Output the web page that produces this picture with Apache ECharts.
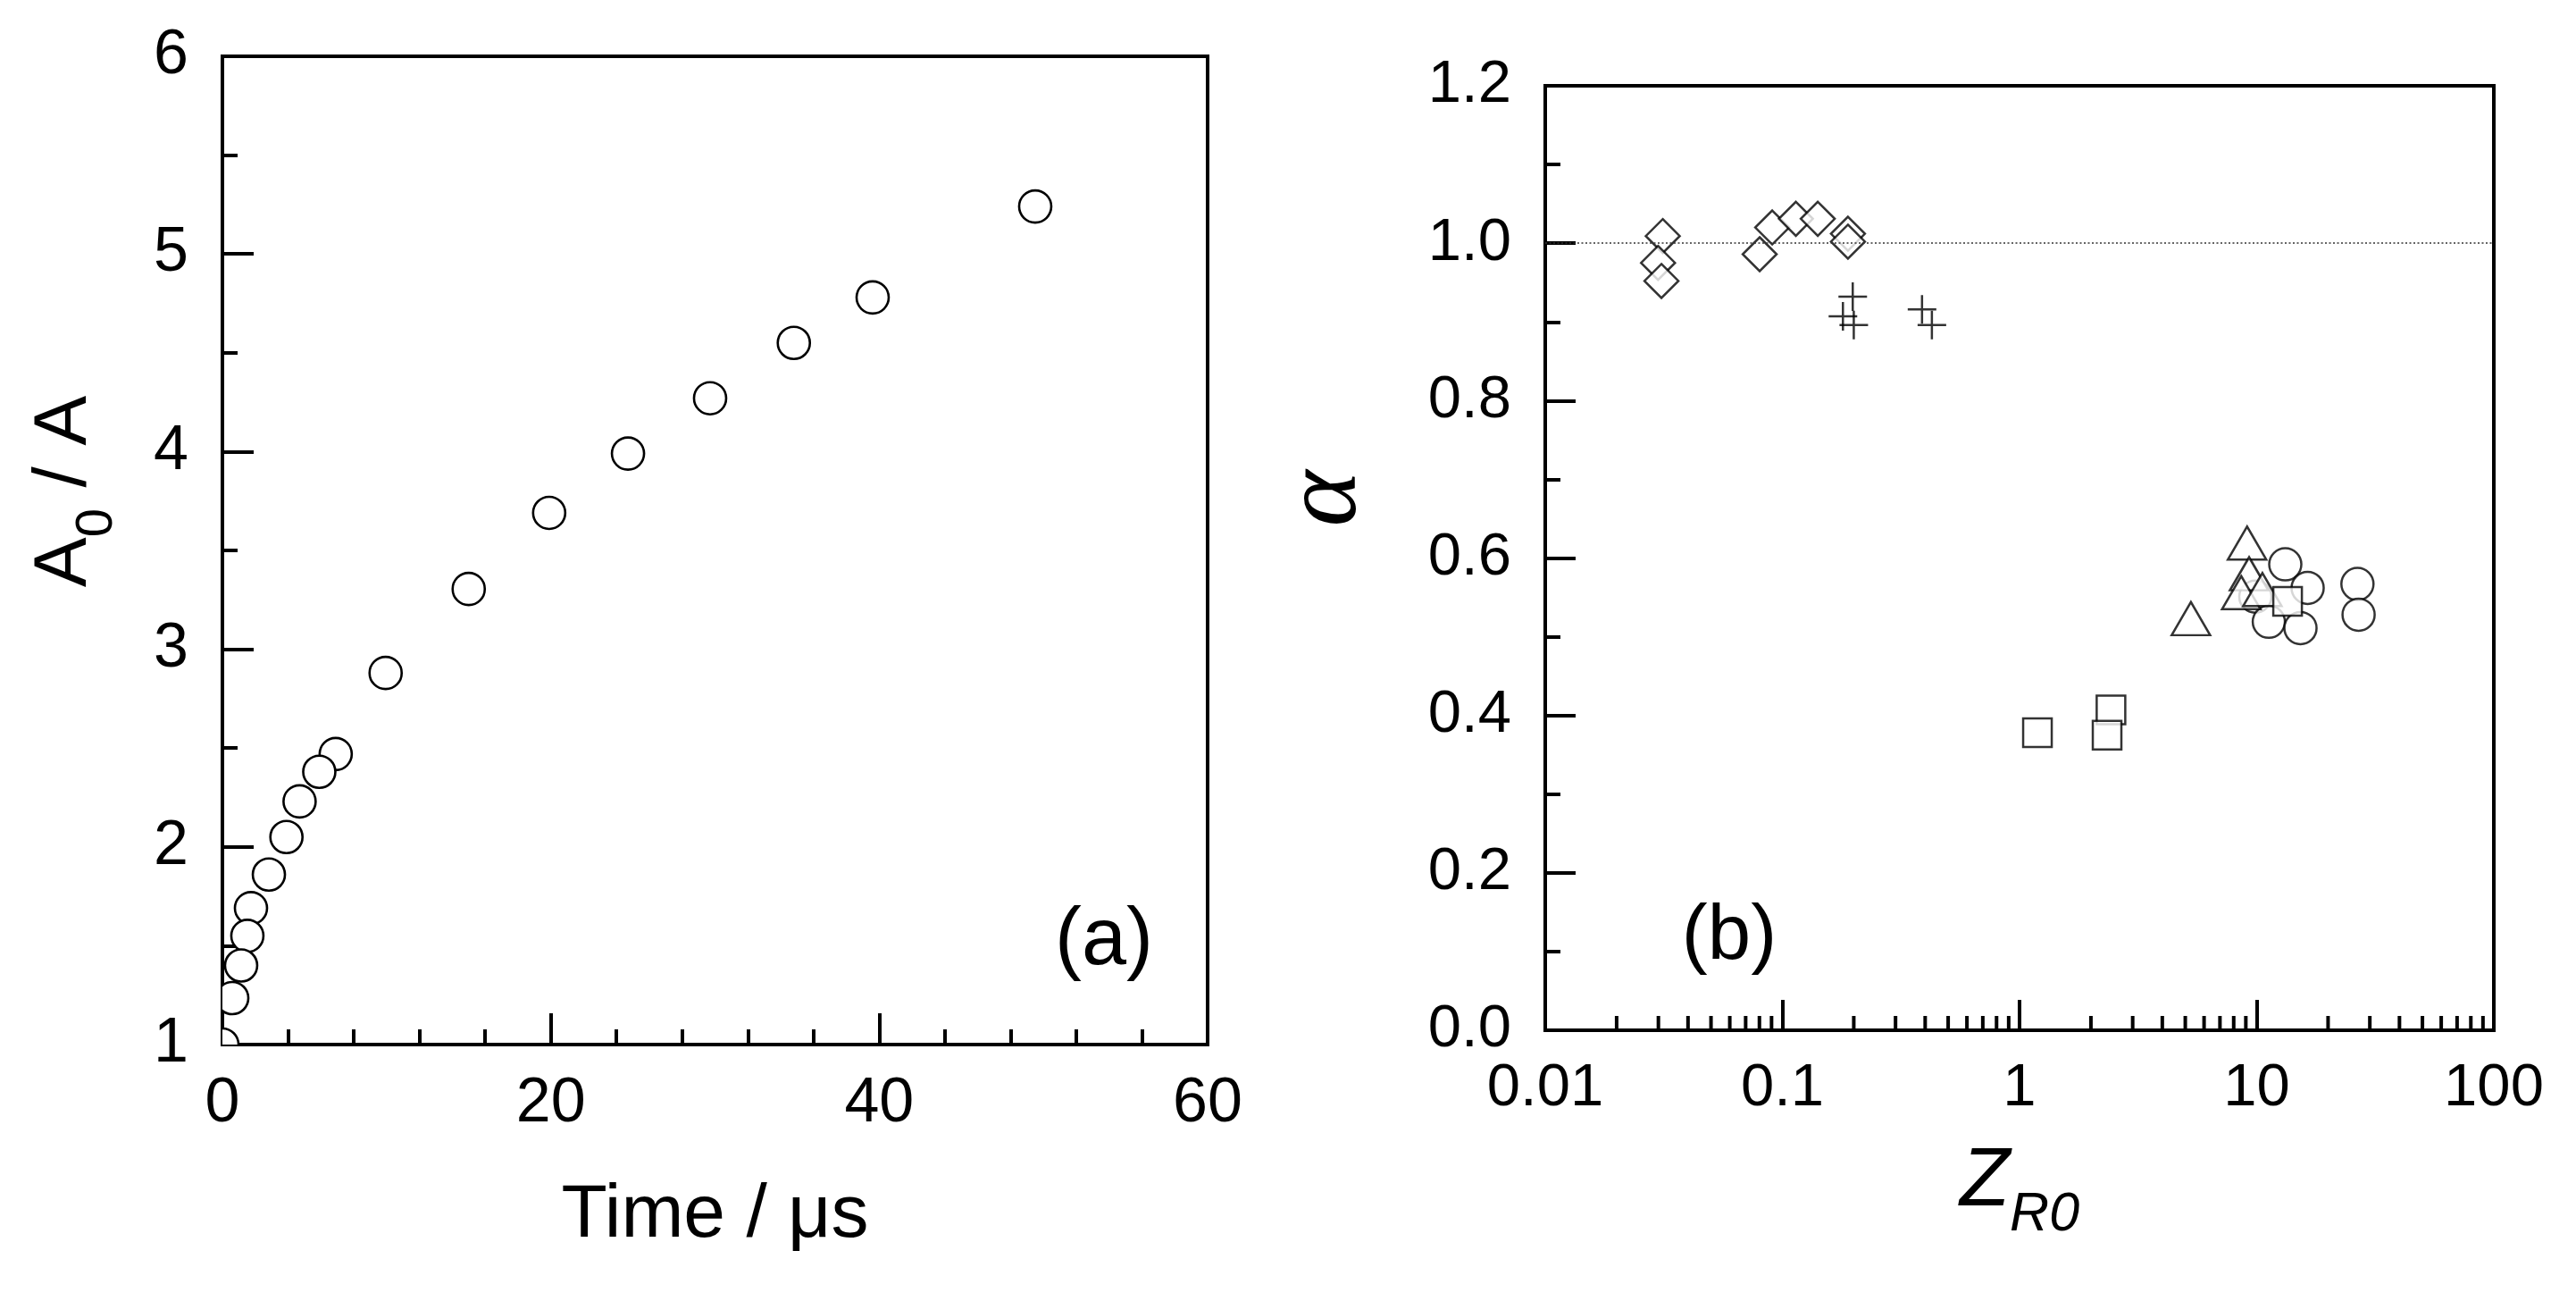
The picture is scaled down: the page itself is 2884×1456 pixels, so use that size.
<!DOCTYPE html>
<html>
<head>
<meta charset="UTF-8">
<style>
    html, body { margin: 0; padding: 0; background: #fff; }
    #chart { width: 2884px; height: 1456px; }
</style>
<script src="https://cdn.jsdelivr.net/npm/echarts/dist/echarts.min.js"></script>
</head>
<body>
<div id="chart"></div>
<script>
// panel (a): A0/A against time (us)
var timeA  = [0, 0.6, 1.14, 1.52, 1.74, 2.83, 3.9, 4.7, 5.9, 6.9, 9.94, 15.0, 19.9, 24.7, 29.7, 34.8, 39.6, 49.5];
var ratioA = [1.0, 1.235, 1.40, 1.55, 1.69, 1.86, 2.05, 2.23, 2.38, 2.47, 2.88, 3.305, 3.69, 3.99, 4.27, 4.55, 4.78, 5.24];

// panel (b): alpha against Z_R0, one pair of arrays per marker
var diamondZ     = [0.0313, 0.0299, 0.0309, 0.0802, 0.0906, 0.114, 0.141, 0.189, 0.189];
var diamondAlpha = [1.009, 0.975, 0.952, 0.986, 1.020, 1.031, 1.031, 1.012, 1.002];
var plusZ        = [0.198, 0.180, 0.200, 0.388, 0.427];
var plusAlpha    = [0.932, 0.907, 0.896, 0.916, 0.896];
var circleZ      = [9.87, 13.2, 16.4, 26.6, 26.9, 11.25, 15.3];
var circleAlpha  = [0.551, 0.592, 0.562, 0.567, 0.528, 0.519, 0.511];
var triangleZ     = [9.11, 9.29, 8.61, 10.57, 5.28];
var triangleAlpha = [0.619, 0.580, 0.556, 0.560, 0.523];
var squareZ      = [1.19, 2.43, 2.34, 13.5];
var squareAlpha  = [0.378, 0.407, 0.375, 0.545];

var xTickLabelsB = ['0.01', '0.1', '1', '10', '100'];
var logDecades = [0.01, 0.1, 1, 10];
var logMinorFactors = [2, 3, 4, 5, 6, 7, 8, 9];
var refAlpha = 1.0;

function pairs(xs, ys) {
    return xs.map(function (x, i) { return [x, ys[i]]; });
}

// earlier points sit on top of later ones in the original
var pointsA = pairs(timeA, ratioA).reverse();

var minorTicksB = [];
logDecades.forEach(function (d) {
    logMinorFactors.forEach(function (f) { minorTicksB.push([d * f, 0]); });
});

var black = '#000';
var sans = 'Liberation Sans';

function baseAxis(fontSize, margin) {
    return {
        axisLine: { show: true, lineStyle: { color: black, width: 4 } },
        axisTick: { show: true, inside: true, length: 35, lineStyle: { color: black, width: 4 } },
        minorTick: { show: true, length: 17, lineStyle: { color: black, width: 4 } },
        splitLine: { show: false },
        minorSplitLine: { show: false },
        axisLabel: { color: black, fontSize: fontSize, fontFamily: sans, margin: margin },
        nameLocation: 'middle',
        nameMoveOverlap: false
    };
}

var chart = echarts.init(document.getElementById('chart'));

var xA = baseAxis(70, 32);
Object.assign(xA, {
    type: 'value', gridIndex: 0, min: 0, max: 60, interval: 20,
    name: 'Time / μs', nameGap: 150,
    nameTextStyle: { color: black, fontSize: 84, fontFamily: sans }
});
xA.minorTick.splitNumber = 5;

var yA = baseAxis(70, 38);
Object.assign(yA, {
    type: 'value', gridIndex: 0, min: 1, max: 6, interval: 1,
    name: '{m|A}{s|0}{m| / A}', nameGap: 111, nameRotate: 90,
    nameTextStyle: {
        padding: [0, 0, 0, 132],
        rich: {
            m: { color: black, fontSize: 84, lineHeight: 84, fontFamily: sans, verticalAlign: 'bottom', padding: [0, 0, 23, 0] },
            s: { color: black, fontSize: 58, lineHeight: 58, fontFamily: sans, verticalAlign: 'bottom' }
        }
    }
});
yA.minorTick.splitNumber = 2;

var xB = baseAxis(67, 32);
Object.assign(xB, {
    type: 'log', logBase: 10, gridIndex: 1, min: 0.01, max: 100, splitNumber: 4,
    name: '{m|Z}{s|R0}', nameGap: 146,
    nameTextStyle: {
        rich: {
            m: { color: black, fontSize: 92, lineHeight: 92, fontFamily: sans, fontStyle: 'italic', verticalAlign: 'bottom', padding: [0, 0, 22, 0] },
            s: { color: black, fontSize: 61, lineHeight: 61, fontFamily: sans, fontStyle: 'italic', verticalAlign: 'bottom' }
        }
    }
});
xB.axisTick.length = 34;
xB.minorTick = { show: false };
xB.axisLabel.formatter = function (v) {
    return xTickLabelsB[Math.round(Math.log10(v)) + 2];
};

var yB = baseAxis(67, 38);
Object.assign(yB, {
    type: 'value', gridIndex: 1, min: 0, max: 1.2, interval: 0.2,
    name: 'α', nameGap: 185, nameRotate: 90,
    nameTextStyle: {
        color: black, fontSize: 120, lineHeight: 120, fontFamily: 'Liberation Serif',
        fontStyle: 'italic', padding: [0, 0, 0, 133]
    }
});
yB.axisTick.length = 34;
yB.minorTick.splitNumber = 2;
yB.axisLabel.formatter = function (v) { return v.toFixed(1); };

var markerStyle = { color: '#fff', borderColor: black, borderWidth: 2.5 };

function scatterB(name, zs, alphas, symbol, size, extra) {
    var s = {
        name: name, type: 'scatter', xAxisIndex: 1, yAxisIndex: 1,
        symbol: symbol, symbolSize: size,
        data: pairs(zs, alphas),
        itemStyle: markerStyle,
        emphasis: { disabled: true }
    };
    return Object.assign(s, extra || {});
}

var option = {
    animation: false,
    backgroundColor: '#fff',
    grid: [
        { left: 249, top: 63, width: 1103, height: 1106, show: true, borderColor: black, borderWidth: 4, backgroundColor: 'transparent', outerBoundsMode: 'none' },
        { left: 1730, top: 96, width: 1062, height: 1057, show: true, borderColor: black, borderWidth: 4, backgroundColor: 'transparent', outerBoundsMode: 'none' }
    ],
    xAxis: [xA, xB],
    yAxis: [yA, yB],
    graphic: [
        { type: 'text', x: 1236, y: 1054, style: { text: '(a)', font: '90px "Liberation Sans"', fill: black, textAlign: 'center', textVerticalAlign: 'middle' } },
        { type: 'text', x: 1936, y: 1049, style: { text: '(b)', font: '87px "Liberation Sans"', fill: black, textAlign: 'center', textVerticalAlign: 'middle' } }
    ],
    series: [
        {
            name: 'A0/A', type: 'custom', xAxisIndex: 0, yAxisIndex: 0, clip: true,
            data: pointsA,
            renderItem: function (params, api) {
                var p = api.coord([api.value(0), api.value(1)]);
                return { type: 'circle', shape: { cx: p[0], cy: p[1], r: 18 }, style: { fill: '#fff', stroke: black, lineWidth: 2.6 } };
            }
        },
        {
            // log minor ticks, 2..9 in every decade
            name: 'minor', type: 'custom', xAxisIndex: 1, yAxisIndex: 1, silent: true,
            data: minorTicksB,
            renderItem: function (params, api) {
                var p = api.coord([api.value(0), 0]);
                return { type: 'line', shape: { x1: p[0], y1: p[1], x2: p[0], y2: p[1] - 16 }, style: { stroke: black, lineWidth: 4 } };
            }
        },
        scatterB('diamond', diamondZ, diamondAlpha, 'diamond', 38, {
            markLine: {
                silent: true, symbol: 'none', label: { show: false },
                lineStyle: { color: '#333', width: 1.5, type: [2, 2.5] },
                data: [{ yAxis: refAlpha }]
            }
        }),
        scatterB('plus', plusZ, plusAlpha, 'path://M16,0 L16,32 M0,16 L32,16', 32, {
            itemStyle: { color: 'transparent', borderColor: black, borderWidth: 2.5 }
        }),
        scatterB('circle', circleZ, circleAlpha, 'circle', 36),
        scatterB('triangle', triangleZ, triangleAlpha, 'triangle', [43, 37]),
        scatterB('square', squareZ, squareAlpha, 'rect', 32)
    ]
};

chart.setOption(option);
</script>
</body>
</html>
